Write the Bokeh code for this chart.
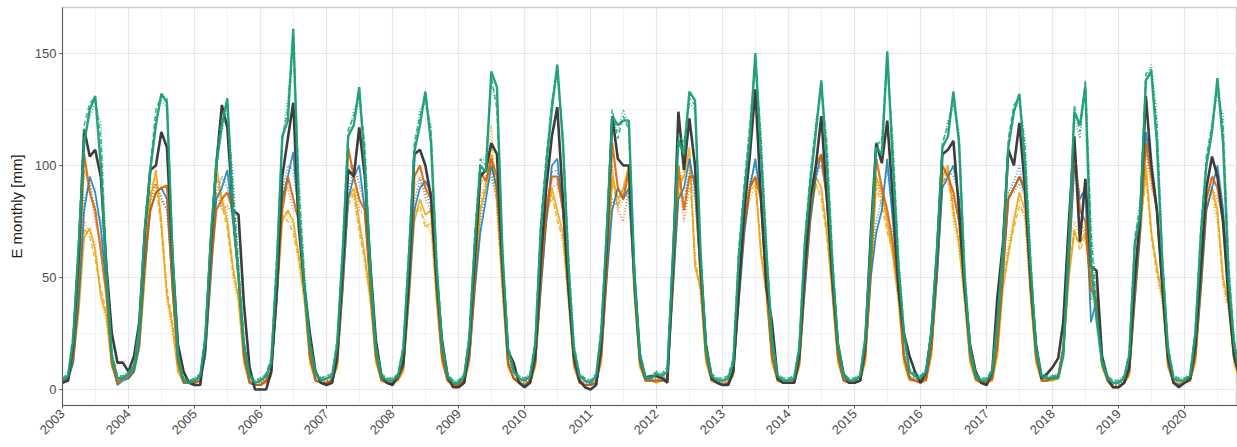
import pandas as pd
from bokeh.plotting import figure
from bokeh.models import Range1d, FixedTicker, DatetimeTickFormatter, ColumnDataSource
from bokeh.embed import file_html
from bokeh.resources import INLINE

years = list(range(2003, 2021))
dates = pd.date_range("2003-01-01", periods=12 * len(years), freq="MS")
y_ticks = [0, 50, 100, 150]
y_minor = [25, 75, 125]

# observed (dark grey)
obs = [
    [3, 4, 20, 60, 116, 104, 107, 95, 55, 25, 12, 12],
    [8, 15, 30, 70, 98, 100, 115, 108, 58, 20, 8, 3],
    [2, 2, 20, 65, 100, 127, 117, 80, 78, 38, 10, 0],
    [0, 0, 8, 45, 95, 112, 128, 72, 45, 25, 8, 3],
    [2, 3, 15, 55, 98, 95, 117, 95, 55, 22, 6, 3],
    [2, 6, 12, 50, 105, 107, 100, 86, 50, 22, 6, 1],
    [1, 3, 20, 60, 95, 98, 110, 105, 55, 17, 12, 3],
    [1, 3, 15, 58, 90, 113, 126, 85, 45, 15, 4, 1],
    [0, 2, 20, 65, 122, 103, 100, 100, 50, 15, 5, 6],
    [6, 5, 3, 55, 124, 98, 121, 100, 55, 20, 5, 3],
    [2, 2, 8, 45, 80, 105, 134, 85, 45, 30, 5, 3],
    [3, 3, 15, 55, 85, 100, 122, 85, 50, 20, 7, 3],
    [3, 4, 20, 70, 110, 101, 120, 85, 45, 25, 15, 8],
    [3, 8, 25, 60, 105, 107, 111, 80, 45, 20, 8, 3],
    [2, 8, 41, 65, 107, 100, 119, 90, 50, 20, 5, 7],
    [10, 14, 30, 75, 113, 66, 94, 55, 53, 15, 5, 1],
    [1, 3, 10, 50, 78, 131, 100, 80, 45, 15, 3, 1],
    [3, 5, 20, 55, 90, 104, 95, 75, 40, 15, 6, 3],
]
green_a = [
    [4, 6, 22, 65, 110, 125, 131, 100, 50, 15, 5, 5],
    [7, 10, 28, 72, 98, 118, 132, 128, 60, 15, 4, 3],
    [4, 6, 22, 68, 100, 118, 130, 80, 50, 20, 6, 3],
    [4, 6, 12, 55, 113, 120, 161, 80, 45, 20, 7, 4],
    [5, 6, 20, 62, 113, 118, 135, 100, 52, 18, 6, 4],
    [4, 6, 18, 60, 106, 118, 133, 110, 55, 20, 6, 3],
    [3, 6, 22, 66, 100, 97, 142, 135, 60, 18, 8, 5],
    [4, 6, 20, 72, 100, 125, 145, 110, 55, 18, 6, 4],
    [3, 6, 25, 70, 122, 118, 120, 120, 50, 15, 5, 5],
    [7, 6, 8, 60, 111, 105, 133, 129, 60, 18, 6, 4],
    [4, 5, 12, 60, 88, 112, 150, 105, 60, 22, 6, 4],
    [4, 5, 18, 65, 92, 115, 138, 100, 55, 20, 6, 4],
    [4, 6, 22, 65, 108, 105, 151, 100, 55, 25, 8, 6],
    [5, 8, 25, 62, 108, 113, 133, 110, 50, 18, 6, 4],
    [4, 8, 30, 62, 108, 124, 132, 100, 55, 18, 6, 5],
    [5, 5, 15, 65, 124, 118, 135, 57, 31, 12, 5, 3],
    [3, 5, 15, 65, 78, 138, 142, 110, 55, 18, 5, 4],
    [4, 6, 25, 70, 100, 115, 139, 110, 50, 20, 7, 4],
]
green_b = [
    [5, 7, 25, 68, 118, 128, 130, 112, 55, 16, 6, 6],
    [8, 11, 30, 75, 100, 125, 131, 130, 62, 16, 5, 4],
    [5, 7, 25, 70, 103, 122, 128, 90, 55, 22, 7, 4],
    [5, 7, 14, 60, 112, 125, 158, 90, 50, 22, 8, 5],
    [6, 7, 22, 65, 116, 122, 132, 108, 55, 20, 7, 5],
    [5, 7, 20, 63, 110, 122, 131, 115, 58, 22, 7, 4],
    [4, 7, 25, 70, 103, 100, 140, 125, 62, 20, 9, 6],
    [5, 7, 22, 75, 104, 128, 143, 112, 58, 20, 7, 5],
    [4, 7, 28, 74, 125, 112, 122, 116, 54, 17, 6, 6],
    [8, 7, 10, 64, 114, 110, 130, 127, 62, 20, 7, 5],
    [5, 6, 14, 63, 92, 118, 147, 112, 62, 24, 7, 5],
    [5, 6, 20, 68, 96, 118, 136, 108, 58, 22, 7, 5],
    [5, 7, 24, 68, 110, 110, 148, 108, 58, 27, 9, 7],
    [6, 9, 27, 65, 110, 118, 130, 112, 53, 20, 7, 5],
    [5, 9, 32, 65, 112, 127, 130, 108, 58, 20, 7, 6],
    [6, 6, 17, 68, 127, 115, 138, 70, 35, 14, 6, 4],
    [4, 6, 17, 68, 82, 141, 143, 118, 58, 20, 6, 5],
    [5, 7, 27, 73, 104, 118, 135, 118, 55, 22, 8, 5],
]
green_c = [
    [5, 7, 24, 66, 112, 122, 128, 118, 58, 17, 6, 6],
    [8, 11, 29, 73, 97, 122, 129, 126, 65, 17, 5, 4],
    [5, 7, 24, 70, 100, 115, 125, 95, 58, 22, 7, 4],
    [5, 7, 14, 58, 110, 130, 155, 95, 52, 22, 8, 5],
    [6, 7, 22, 64, 112, 125, 128, 110, 57, 20, 7, 5],
    [5, 7, 20, 62, 108, 125, 128, 118, 60, 22, 7, 4],
    [4, 7, 24, 68, 100, 104, 136, 128, 64, 20, 9, 6],
    [5, 7, 22, 74, 102, 130, 140, 115, 60, 20, 7, 5],
    [4, 7, 27, 72, 120, 115, 125, 118, 56, 17, 6, 6],
    [8, 7, 10, 62, 112, 108, 128, 125, 64, 20, 7, 5],
    [5, 6, 14, 62, 90, 120, 143, 115, 64, 24, 7, 5],
    [5, 6, 20, 66, 94, 120, 132, 112, 60, 22, 7, 5],
    [5, 7, 24, 66, 108, 112, 144, 112, 60, 27, 9, 7],
    [6, 9, 27, 64, 108, 120, 127, 115, 55, 20, 7, 5],
    [5, 9, 32, 64, 110, 125, 128, 112, 60, 20, 7, 6],
    [6, 6, 17, 66, 122, 112, 138, 75, 38, 14, 6, 4],
    [4, 6, 17, 66, 85, 138, 145, 122, 60, 20, 6, 5],
    [5, 7, 27, 70, 102, 120, 132, 122, 58, 22, 8, 5],
]
blue_a = [
    [3, 5, 12, 40, 80, 95, 88, 72, 45, 12, 2, 4],
    [5, 8, 20, 55, 80, 88, 90, 85, 45, 12, 3, 3],
    [3, 4, 15, 50, 85, 90, 98, 75, 50, 15, 3, 2],
    [2, 4, 8, 40, 85, 95, 106, 75, 45, 15, 4, 3],
    [3, 4, 12, 45, 85, 95, 100, 80, 45, 15, 4, 3],
    [3, 5, 10, 42, 80, 90, 93, 88, 45, 15, 4, 2],
    [2, 4, 14, 45, 70, 85, 100, 90, 50, 12, 5, 3],
    [2, 4, 12, 45, 75, 100, 103, 80, 45, 12, 3, 2],
    [2, 3, 15, 50, 80, 90, 85, 90, 45, 12, 4, 4],
    [4, 4, 5, 45, 85, 90, 103, 90, 50, 15, 4, 3],
    [2, 3, 8, 40, 70, 90, 103, 85, 45, 15, 4, 3],
    [3, 3, 12, 45, 75, 95, 105, 85, 45, 15, 4, 3],
    [3, 4, 15, 50, 70, 80, 103, 75, 45, 15, 5, 4],
    [3, 5, 18, 50, 90, 95, 100, 85, 45, 15, 5, 3],
    [3, 5, 20, 50, 85, 90, 95, 88, 45, 15, 4, 4],
    [5, 6, 18, 55, 100, 85, 90, 30, 40, 12, 4, 1],
    [1, 3, 8, 40, 70, 115, 100, 80, 45, 12, 3, 2],
    [3, 4, 15, 45, 80, 90, 100, 80, 42, 15, 5, 3],
]
blue_b = [
    [4, 6, 15, 45, 85, 92, 80, 76, 48, 14, 3, 5],
    [6, 9, 22, 58, 84, 92, 85, 80, 48, 14, 4, 4],
    [4, 5, 17, 55, 88, 95, 90, 78, 52, 17, 4, 3],
    [3, 5, 10, 44, 88, 100, 98, 78, 48, 17, 5, 4],
    [4, 5, 14, 48, 88, 100, 92, 82, 48, 17, 5, 4],
    [4, 6, 12, 46, 84, 94, 88, 82, 48, 17, 5, 3],
    [3, 5, 16, 50, 75, 90, 95, 85, 52, 14, 6, 4],
    [3, 5, 14, 50, 80, 97, 98, 82, 48, 14, 4, 3],
    [3, 4, 17, 55, 85, 82, 90, 85, 48, 14, 5, 5],
    [5, 5, 6, 50, 88, 85, 98, 85, 52, 17, 5, 4],
    [3, 4, 10, 45, 75, 93, 100, 88, 48, 17, 5, 4],
    [4, 4, 14, 50, 80, 98, 100, 88, 48, 17, 5, 4],
    [4, 5, 17, 55, 75, 85, 98, 78, 48, 17, 6, 5],
    [4, 6, 20, 55, 92, 98, 95, 88, 48, 17, 6, 4],
    [4, 6, 22, 55, 88, 93, 100, 85, 48, 17, 5, 5],
    [6, 7, 20, 60, 98, 88, 85, 40, 45, 14, 5, 2],
    [2, 4, 10, 45, 75, 110, 105, 82, 48, 14, 4, 3],
    [4, 5, 17, 50, 85, 95, 96, 82, 45, 17, 6, 4],
]
verm_a = [
    [3, 5, 15, 50, 105, 88, 80, 62, 42, 12, 3, 5],
    [6, 10, 25, 60, 80, 88, 90, 91, 45, 12, 3, 3],
    [3, 4, 18, 55, 80, 85, 88, 80, 50, 15, 3, 2],
    [2, 4, 8, 45, 80, 95, 85, 75, 45, 15, 4, 3],
    [3, 4, 12, 50, 108, 95, 85, 80, 45, 15, 4, 3],
    [3, 5, 10, 45, 95, 100, 90, 85, 45, 15, 4, 2],
    [2, 4, 15, 50, 97, 93, 103, 95, 50, 12, 5, 3],
    [2, 4, 12, 50, 80, 95, 95, 80, 45, 12, 3, 2],
    [2, 3, 15, 55, 110, 90, 85, 98, 45, 12, 4, 4],
    [4, 4, 5, 50, 100, 80, 95, 95, 50, 15, 4, 3],
    [2, 3, 8, 45, 75, 90, 95, 85, 45, 15, 4, 3],
    [3, 3, 12, 50, 80, 100, 105, 85, 45, 15, 4, 3],
    [3, 4, 15, 55, 103, 90, 80, 65, 45, 15, 5, 4],
    [3, 5, 18, 55, 100, 95, 88, 75, 45, 15, 5, 3],
    [3, 5, 20, 55, 85, 90, 95, 90, 45, 15, 4, 4],
    [5, 6, 18, 60, 110, 80, 75, 45, 40, 12, 4, 1],
    [1, 3, 8, 45, 75, 110, 95, 80, 45, 12, 3, 2],
    [3, 4, 15, 50, 85, 95, 90, 75, 42, 15, 5, 3],
]
verm_b = [
    [4, 6, 18, 55, 98, 90, 75, 65, 45, 14, 4, 6],
    [7, 11, 27, 62, 85, 92, 86, 80, 48, 14, 4, 4],
    [4, 5, 20, 58, 88, 80, 82, 78, 52, 17, 4, 3],
    [3, 5, 10, 50, 88, 90, 80, 78, 48, 17, 5, 4],
    [4, 5, 14, 55, 100, 98, 80, 78, 48, 17, 5, 4],
    [4, 6, 12, 50, 90, 95, 85, 80, 48, 17, 5, 3],
    [3, 5, 17, 55, 92, 95, 98, 85, 52, 14, 6, 4],
    [3, 5, 14, 55, 85, 90, 92, 82, 48, 14, 4, 3],
    [3, 4, 17, 60, 100, 80, 75, 90, 48, 14, 5, 5],
    [5, 5, 6, 55, 95, 75, 90, 90, 52, 17, 5, 4],
    [3, 4, 10, 50, 80, 92, 92, 88, 48, 17, 5, 4],
    [4, 4, 14, 55, 85, 95, 100, 88, 48, 17, 5, 4],
    [4, 5, 17, 60, 95, 85, 78, 70, 48, 17, 6, 5],
    [4, 6, 20, 60, 95, 92, 85, 78, 48, 17, 6, 4],
    [4, 6, 22, 58, 88, 88, 92, 85, 48, 17, 5, 5],
    [6, 7, 20, 62, 105, 75, 70, 50, 42, 14, 5, 2],
    [2, 4, 10, 50, 80, 105, 90, 82, 48, 14, 4, 3],
    [4, 5, 17, 55, 88, 90, 85, 78, 45, 17, 6, 4],
]
yell_a = [
    [3, 4, 12, 35, 68, 72, 62, 42, 33, 10, 4, 5],
    [5, 8, 18, 50, 85, 98, 75, 42, 28, 8, 3, 3],
    [3, 4, 15, 55, 100, 85, 75, 55, 40, 12, 3, 2],
    [2, 3, 6, 40, 75, 80, 75, 60, 40, 12, 4, 3],
    [3, 4, 10, 45, 85, 90, 75, 60, 40, 12, 4, 3],
    [3, 4, 8, 40, 75, 85, 78, 80, 40, 12, 4, 2],
    [2, 3, 12, 45, 80, 90, 105, 85, 45, 10, 5, 3],
    [2, 3, 10, 45, 75, 90, 80, 70, 40, 10, 3, 2],
    [2, 3, 12, 50, 95, 85, 90, 100, 42, 10, 4, 4],
    [3, 4, 4, 45, 90, 95, 108, 55, 45, 12, 4, 3],
    [2, 3, 6, 40, 70, 90, 95, 60, 42, 12, 4, 3],
    [3, 3, 10, 45, 75, 95, 90, 70, 42, 12, 4, 3],
    [3, 4, 12, 50, 95, 88, 75, 60, 40, 12, 4, 4],
    [3, 4, 15, 50, 95, 100, 80, 65, 40, 12, 4, 3],
    [3, 4, 15, 45, 60, 75, 88, 80, 42, 12, 4, 4],
    [4, 5, 15, 50, 70, 65, 70, 45, 38, 10, 4, 1],
    [1, 3, 6, 40, 70, 100, 70, 55, 40, 10, 3, 2],
    [3, 4, 12, 45, 80, 90, 80, 50, 38, 12, 4, 3],
]
yell_b = [
    [4, 5, 14, 40, 75, 70, 65, 40, 30, 12, 5, 6],
    [6, 9, 20, 55, 90, 95, 70, 38, 25, 10, 4, 4],
    [4, 5, 17, 60, 98, 88, 78, 50, 38, 14, 4, 3],
    [3, 4, 8, 45, 80, 78, 72, 55, 38, 14, 5, 4],
    [4, 5, 12, 50, 88, 85, 72, 55, 38, 14, 5, 4],
    [4, 5, 10, 45, 80, 80, 75, 70, 38, 14, 5, 3],
    [3, 4, 14, 50, 85, 95, 118, 80, 42, 12, 6, 4],
    [3, 4, 12, 50, 80, 85, 78, 65, 38, 12, 4, 3],
    [3, 4, 14, 55, 98, 80, 85, 95, 40, 12, 5, 5],
    [4, 5, 5, 50, 92, 100, 104, 60, 42, 14, 5, 4],
    [3, 4, 8, 45, 75, 85, 90, 65, 40, 14, 5, 4],
    [4, 4, 12, 50, 80, 90, 88, 72, 40, 14, 5, 4],
    [4, 5, 14, 55, 92, 85, 72, 58, 38, 14, 5, 5],
    [4, 5, 17, 55, 98, 95, 75, 62, 38, 14, 5, 4],
    [4, 5, 17, 50, 65, 78, 85, 75, 40, 14, 5, 5],
    [5, 6, 17, 55, 75, 68, 72, 42, 36, 12, 5, 2],
    [2, 4, 8, 45, 75, 98, 72, 50, 38, 12, 4, 3],
    [4, 5, 14, 50, 85, 85, 75, 45, 35, 14, 5, 4],
]
yell_c = [
    [3, 5, 13, 38, 72, 68, 58, 45, 35, 11, 4, 5],
    [5, 8, 19, 52, 88, 92, 72, 45, 30, 9, 3, 3],
    [3, 4, 16, 58, 95, 82, 72, 52, 42, 13, 3, 2],
    [2, 3, 7, 42, 78, 75, 70, 58, 42, 13, 4, 3],
    [3, 4, 11, 48, 82, 88, 70, 58, 42, 13, 4, 3],
    [3, 4, 9, 42, 78, 82, 72, 75, 42, 13, 4, 2],
    [2, 3, 13, 48, 82, 92, 110, 82, 44, 11, 5, 3],
    [2, 3, 11, 48, 78, 88, 75, 68, 42, 11, 3, 2],
    [2, 3, 13, 52, 92, 82, 88, 98, 44, 11, 4, 4],
    [3, 4, 4, 48, 88, 98, 100, 58, 44, 13, 4, 3],
    [2, 3, 7, 42, 72, 88, 92, 62, 44, 13, 4, 3],
    [3, 3, 11, 48, 78, 92, 85, 68, 44, 13, 4, 3],
    [3, 4, 13, 52, 90, 82, 70, 62, 42, 13, 4, 4],
    [3, 4, 16, 52, 92, 98, 78, 68, 42, 13, 4, 3],
    [3, 4, 16, 48, 62, 72, 82, 78, 44, 13, 4, 4],
    [4, 5, 16, 52, 72, 62, 68, 48, 40, 11, 4, 1],
    [1, 3, 7, 42, 72, 95, 68, 52, 42, 11, 3, 2],
    [3, 4, 13, 48, 82, 88, 78, 48, 36, 13, 4, 3],
]


def flat(rows):
    return [v for r in rows for v in r]


src = ColumnDataSource(dict(
    date=dates,
    obs=flat(obs), green_a=flat(green_a), green_b=flat(green_b), green_c=flat(green_c),
    blue_a=flat(blue_a), blue_b=flat(blue_b),
    verm_a=flat(verm_a), verm_b=flat(verm_b),
    yell_a=flat(yell_a), yell_b=flat(yell_b), yell_c=flat(yell_c),
))

p = figure(
    width=1237, height=447, x_axis_type="datetime",
    output_backend="svg", toolbar_location=None,
    x_range=Range1d(pd.Timestamp("2003-01-01"), pd.Timestamp("2020-10-20")),
    y_range=Range1d(-7.14, 170.5),
    min_border_left=62, min_border_right=0, min_border_top=7, min_border_bottom=42,
    background_fill_color="white", border_fill_color="white",
)

GREEN = "#1B9E77"
BLUE = "#0072B2"
VERM = "#D55E00"
YELL = "#E69F00"
GREY = "#3d3d3d"

styles = [
    ("blue_b", BLUE, 1.8, "1 2", 0.7),
    ("yell_b", YELL, 1.8, "1 2", 0.7),
    ("yell_c", YELL, 1.6, "5 3", 0.7),
    ("verm_b", VERM, 1.8, "1 2", 0.7),
    ("yell_a", YELL, 1.8, "solid", 0.8),
    ("blue_a", BLUE, 1.8, "solid", 0.8),
    ("verm_a", VERM, 2.2, "solid", 0.85),
    ("obs", GREY, 2.6, "solid", 1.0),
    ("green_c", GREEN, 1.8, "1 2", 0.75),
    ("green_b", GREEN, 1.6, "5 3", 0.8),
    ("green_a", GREEN, 2.4, "solid", 0.95),
]
for col, c, w, d, a in styles:
    p.line("date", col, source=src, line_color=c, line_width=w, line_dash=d, line_alpha=a)

year_ms = [pd.Timestamp(f"{y}-01-01").value // 10**6 for y in years]
mid_ms = [pd.Timestamp(f"{y}-07-02").value // 10**6 for y in years]
p.xaxis.ticker = FixedTicker(ticks=year_ms, minor_ticks=mid_ms)
fmt = "%Y"
p.xaxis.formatter = DatetimeTickFormatter(years=fmt, months=fmt, days=fmt, hours=fmt,
                                          minutes=fmt, seconds=fmt, milliseconds=fmt,
                                          microseconds=fmt, hourmin=fmt, minsec=fmt)
p.yaxis.ticker = FixedTicker(ticks=y_ticks, minor_ticks=y_minor)

for g in (p.xgrid, p.ygrid):
    g.grid_line_color = "#e6e6e6"
    g.grid_line_width = 1.2
    g.minor_grid_line_color = "#f3f3f3"
    g.minor_grid_line_width = 1

for ax in (p.xaxis, p.yaxis):
    ax.axis_line_color = "#5a5a5a"
    ax.axis_line_width = 1
    ax.major_tick_line_color = "#5a5a5a"
    ax.major_tick_out = 3
    ax.major_tick_in = 0
    ax.minor_tick_out = 0
    ax.minor_tick_in = 0
    ax.major_label_text_font = "Liberation Sans"
    ax.major_label_text_font_size = "13px"
    ax.major_label_text_color = "#4d4d4d"
    ax.major_label_standoff = 3

p.xaxis.major_label_orientation = 0.785398
p.yaxis.axis_label = "E monthly [mm]"
p.yaxis.axis_label_text_font = "Liberation Sans"
p.yaxis.axis_label_text_font_size = "15px"
p.yaxis.axis_label_text_font_style = "normal"
p.yaxis.axis_label_text_color = "#1a1a1a"
p.yaxis.axis_label_standoff = 7

p.outline_line_color = "#cfcfcf"
p.outline_line_width = 1.5

open("out.html", "w").write(file_html(p, INLINE))
